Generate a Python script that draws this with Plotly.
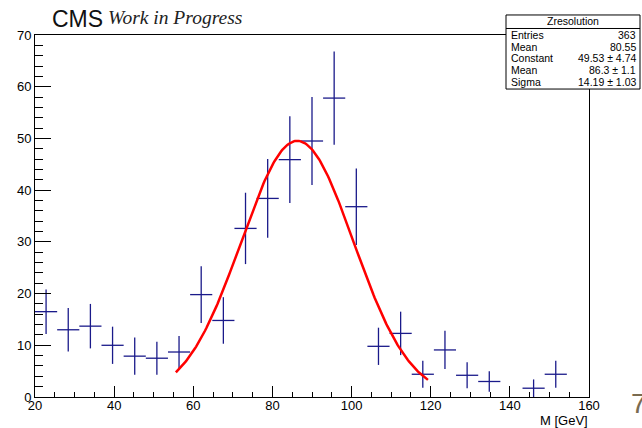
import plotly.graph_objects as go
import numpy as np

# ---------------- data ----------------
bin_centers = [22.8, 28.4, 34.0, 39.6, 45.2, 50.8, 56.4, 62.0, 67.6, 73.2, 78.8, 84.4,
               90.0, 95.6, 101.2, 106.8, 112.4, 118.0, 123.6, 129.2, 134.8, 146.0, 151.6]
counts = [16.5, 13.0, 13.7, 10.0, 7.9, 7.5, 8.7, 19.8, 14.8, 32.6, 38.4, 45.9,
          49.5, 57.8, 36.8, 9.8, 12.3, 4.4, 9.1, 4.2, 3.0, 1.7, 4.4]
errors = [4.3, 4.2, 4.3, 3.6, 3.6, 3.2, 3.1, 5.5, 4.5, 6.9, 7.6, 8.4,
          8.5, 9.0, 7.4, 3.6, 4.2, 2.6, 3.7, 2.5, 2.0, 1.7, 2.6]
bin_half_width = 2.8

fit_constant = 49.53
fit_mean = 86.3
fit_sigma = 14.19
fit_range = [55.6, 119.3]

x_ticks = [20, 40, 60, 80, 100, 120, 140, 160]
y_ticks = [0, 10, 20, 30, 40, 50, 60, 70]

stats_labels = ["Entries", "Mean", "Constant", "Mean", "Sigma"]
stats_values = ["363", "80.55", "49.53 ± 4.74", "86.3 ± 1.1", "14.19 ± 1.03"]

# ---------------- geometry ----------------
W, H = 642, 428
L, R, T, B = 35, 589, 35, 396.7


def px(x):
    return (x - L) / (R - L)


def py(y):
    return (B - y) / (B - T)


fig = go.Figure()

fig.add_trace(go.Scatter(
    x=bin_centers, y=counts, mode="markers",
    marker=dict(size=1, color="rgba(0,0,0,0)"),
    error_x=dict(type="constant", value=bin_half_width, width=0, thickness=1.3, color="#1a1a8a"),
    error_y=dict(type="data", array=errors, symmetric=True, width=0, thickness=1.3, color="#1a1a8a"),
    showlegend=False, hoverinfo="skip", cliponaxis=True,
))

fx = np.linspace(fit_range[0], fit_range[1], 200)
fy = fit_constant * np.exp(-0.5 * ((fx - fit_mean) / fit_sigma) ** 2)
fig.add_trace(go.Scatter(x=fx, y=fy, mode="lines", line=dict(color="#ff0000", width=2.5),
                         showlegend=False, hoverinfo="skip"))

axis_font = dict(family="Liberation Sans, Arial, sans-serif", size=13, color="black")

fig.update_layout(
    width=W, height=H,
    margin=dict(l=L, r=W - R, t=T, b=H - B, pad=0),
    paper_bgcolor="white", plot_bgcolor="white",
    xaxis=dict(range=[20, 160], tickvals=x_ticks, ticks="inside", ticklen=11, tickwidth=1,
               tickcolor="black", showline=True, linecolor="black", linewidth=1, mirror=True,
               showgrid=False, zeroline=False, tickfont=axis_font, ticklabelstandoff=-4,
               minor=dict(dtick=5, tick0=20, ticks="inside", ticklen=5, tickcolor="black", showgrid=False)),
    yaxis=dict(range=[0, 70], tickvals=y_ticks, ticks="inside", ticklen=16, tickwidth=1,
               tickcolor="black", showline=True, linecolor="black", linewidth=1, mirror=True,
               showgrid=False, zeroline=False, tickfont=axis_font,
               minor=dict(dtick=2, tick0=0, ticks="inside", ticklen=8, tickcolor="black", showgrid=False)),
)

# stats box
box_l, box_r, box_t, box_b = 506, 640, 15, 89
fig.add_shape(type="rect", xref="paper", yref="paper",
              x0=px(box_l), x1=px(box_r), y0=py(box_b), y1=py(box_t),
              line=dict(color="black", width=1), fillcolor="white", layer="above")
fig.add_shape(type="line", xref="paper", yref="paper",
              x0=px(box_l), x1=px(box_r), y0=py(28.5), y1=py(28.5),
              line=dict(color="black", width=1), layer="above")

stat_font = dict(family="Liberation Sans, Arial, sans-serif", size=10.5, color="black")
fig.add_annotation(xref="paper", yref="paper", x=px((box_l + box_r) / 2), y=py(21.5),
                   text="Zresolution", showarrow=False, font=stat_font,
                   xanchor="center", yanchor="middle")
row_y = [35, 46.5, 58, 70, 81.5]
for lab, val, yy in zip(stats_labels, stats_values, row_y):
    fig.add_annotation(xref="paper", yref="paper", x=px(509), y=py(yy), text=lab,
                       showarrow=False, font=stat_font, xanchor="left", yanchor="middle")
    fig.add_annotation(xref="paper", yref="paper", x=px(637.5), y=py(yy), text=val,
                       showarrow=False, font=stat_font, xanchor="right", yanchor="middle")

# CMS label
fig.add_annotation(xref="paper", yref="paper", x=px(50), y=py(19.5), text="CMS",
                   showarrow=False, xanchor="left", yanchor="middle",
                   font=dict(family="Liberation Sans, Arial, sans-serif", size=23, color="#111111"))
fig.add_annotation(xref="paper", yref="paper", x=px(106), y=py(18), text="<i>Work in Progress</i>",
                   showarrow=False, xanchor="left", yanchor="middle",
                   font=dict(family="Liberation Serif, DejaVu Serif, serif", size=19.5, color="#222222"))

# axis title
fig.add_annotation(xref="paper", yref="paper", x=px(590), y=py(420), text="M [GeV]",
                   showarrow=False, xanchor="right", yanchor="middle", font=axis_font)

# cropped stray character at right edge
fig.add_annotation(xref="paper", yref="paper", x=px(629), y=py(403), text="7",
                   showarrow=False, xanchor="left", yanchor="middle",
                   font=dict(family="Liberation Sans, Arial, sans-serif", size=28, color="#7a6b50"))

fig.write_html("out.html", config={"displayModeBar": False},
               post_script="document.body.style.margin='0';document.body.style.overflow='hidden';")
